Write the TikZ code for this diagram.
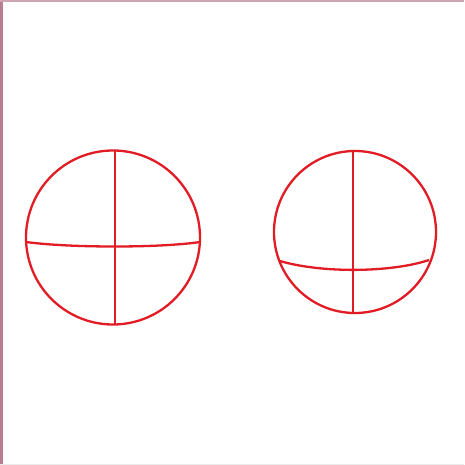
\documentclass[tikz,border=0pt]{standalone}
\begin{document}
\begin{tikzpicture}[x=1pt,y=-1pt,
  redline/.style={draw={rgb,255:red,226;green,28;blue,36},line width=2.3pt}]
\definecolor{edgemauve}{RGB}{186,126,146}
\useasboundingbox (0,0) rectangle (464,465);
\fill[white] (0,0) rectangle (464,465);
\fill[edgemauve] (0,0) rectangle (3,465);
\fill[edgemauve!70] (0,0) rectangle (464,1.6);
\fill[black!8] (0,463.5) rectangle (464,465);
% left circle
\coordinate (lc) at (113,237.5);
\coordinate (lt) at (115,151);
\coordinate (lb) at (115,324);
\coordinate (ll) at (26,242);
\coordinate (lr) at (200,242);
\draw[redline] (lc) circle (87);
\draw[redline] (lt) -- (lb);
\draw[redline] (ll) .. controls (70,248) and (160,248) .. (lr);
% right circle
\coordinate (rc) at (355,232);
\coordinate (rt) at (353,151);
\coordinate (rb) at (353,313);
\coordinate (rl) at (280,261);
\coordinate (rr) at (429,260);
\draw[redline] (rc) circle (81);
\draw[redline] (rt) -- (rb);
\draw[redline] (rl) .. controls (320,273) and (390,273) .. (rr);
\end{tikzpicture}
\end{document}
